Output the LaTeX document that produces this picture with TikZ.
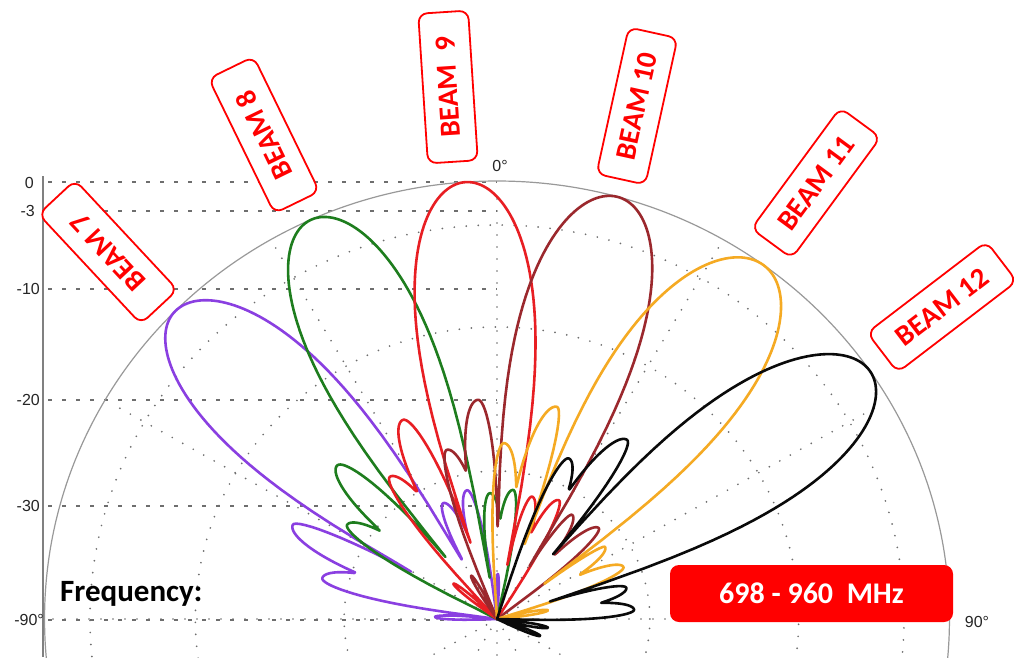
\documentclass[tikz,border=0pt]{standalone}
\usepackage{fontspec}
\setmainfont{Carlito}
\newfontfamily\axf{Liberation Sans}
\definecolor{cP}{RGB}{138,63,225}
\definecolor{cG}{RGB}{30,125,30}
\definecolor{cR}{RGB}{232,30,35}
\definecolor{cB}{RGB}{155,40,45}
\definecolor{cO}{RGB}{245,170,35}
\definecolor{cK}{RGB}{10,10,10}
\definecolor{gridc}{RGB}{110,110,110}
\begin{document}
\begin{tikzpicture}[x=1pt,y=-1pt,
  declare function={
    pcos(\aT,\aC,\aL,\aW)=max(cos(90*min(abs((\aT)-(\aC))/(((\aT)<(\aC))?(\aL):(\aW)),1)),0);
    proot(\aX)=sqrt(sqrt(\aX))*sqrt(sqrt(sqrt(\aX)));
    pmain(\aT,\aC,\aR,\aL,\aW)=\aR*proot(pcos(\aT,\aC,\aL,\aW));
    pside(\aT,\aC,\aR,\aL,\aW)=\aR*sqrt(pcos(\aT,\aC,\aL,\aW));
    rP(\aT)=max(pmain(\aT,-45.3,438,15,15.5),pside(\aT,-64.5,219,9.5,4.7),pside(\aT,-76.4,174,6,9.5),pside(\aT,-24.2,127,6.6,8.5),pside(\aT,-12.7,132,8.5,5.5),pside(\aT,-88,60,4,4),pside(\aT,1,45,3,3));
    rG(\aT)=max(pmain(\aT,-24.2,438,14.5,14.5),pside(\aT,-45.2,218,9.5,7),pside(\aT,-57,173,6,9.5),pside(\aT,-3.1,126,7.1,8.5),pside(\aT,6.9,130,8.5,5.5),pside(\aT,-75,50,3.5,3.5));
    rR(\aT)=max(pmain(\aT,-4,438,14.5,14.5),pside(\aT,-24.6,219,9.5,6.6),pside(\aT,-36.1,176,6,9.5),pside(\aT,15.5,127,5.5,8.5),pside(\aT,26.8,133,8.5,5.5),pside(\aT,-50,55,4,4));
    rB(\aT)=max(pmain(\aT,15.5,438,15,15),pside(\aT,-4.8,220,9.5,5.8),pside(\aT,-16,176,6,9.5),pside(\aT,34.9,127,4.9,8.5),pside(\aT,47.3,134,8.5,5.5),pside(\aT,-30,50,4,4));
    rO(\aT)=max(pmain(\aT,36,438,16.5,16.5),pside(\aT,15.3,220,9.5,4.7),pside(\aT,2.2,176,6,9.5),pside(\aT,55.4,127,3.4,8.5),pside(\aT,67,133,8.5,5.5),pside(\aT,80,50,4,4));
    rK(\aT)=max(pmain(\aT,55.5,438,15.5,15.5),pside(\aT,35.1,219,9.5,5.4),pside(\aT,23.4,175,6,9.5),pside(\aT,76,129,5.5,8.5),pside(\aT,86,133,8.5,5.5),pside(\aT,100,50,4,4),pside(\aT,112,45,4,4));
  },
  lvl/.style={font=\axf\fontsize{16}{18}\selectfont, text=black!85, inner sep=0pt},
  beamlbl/.style={draw=red, line width=1.8pt, fill=white, rounded corners=9pt, minimum width=150pt, minimum height=50pt, text=red, font=\bfseries\fontsize{29}{32}\selectfont, inner sep=0pt},
  lobe/.style={line width=2.6pt, line join=round},
  dotgrid/.style={gridc, line width=1.9pt, dash pattern=on 0pt off 12pt, line cap=round},
  lvlline/.style={gridc, line width=1.8pt, dash pattern=on 4pt off 10pt},
]
\fill[white] (0,0) rectangle (1021,657);
\useasboundingbox (0,0) rectangle (1021,657);
\clip (0,0) rectangle (1021,657);
\coordinate (c) at (497,619);
% level lines
\foreach \yy in {182,211,289,400,506,620} \draw[lvlline] (48,\yy) -- (497,\yy);
% dotted grid
\begin{scope}[shift={(497,619)},x=1.033pt,y=1pt]
  \foreach \rr in {148,292,394} \draw[dotgrid] (0,0) ellipse [x radius=\rr, y radius=\rr];
  \foreach \aa in {0,30,...,330} \draw[dotgrid] (0,0) -- (\aa:430);
  \draw[gray!80, line width=1.2pt] (0,0) ellipse [x radius=438, y radius=438];
\end{scope}
\draw[gray, line width=1.3pt] (43,176) -- (43,657);
% lobes
\begin{scope}[shift={(497,619)},x=1.033pt,y=1pt]
  \draw[lobe,cP] plot[domain=-100:8,samples=309] ({90-(\x)}:{rP(\x)});
  \draw[lobe,cG] plot[domain=-70:18,samples=252] ({90-(\x)}:{rG(\x)});
  \draw[lobe,cR] plot[domain=-56:36,samples=264] ({90-(\x)}:{rR(\x)});
  \draw[lobe,cB] plot[domain=-36:58,samples=270] ({90-(\x)}:{rB(\x)});
  \draw[lobe,cO] plot[domain=-8:86,samples=270] ({90-(\x)}:{rO(\x)});
  \draw[lobe,cK] plot[domain=12:118,samples=304] ({90-(\x)}:{rK(\x)});
\end{scope}
% axis labels
\node[lvl,anchor=east] (l0) at (34,183) {0};
\node[lvl,anchor=east] (l3) at (35,211) {-3};
\node[lvl,anchor=east] (l10) at (40,289) {-10};
\node[lvl,anchor=east] (l20) at (40,400) {-20};
\node[lvl,anchor=east] (l30) at (40,506) {-30};
\node[lvl,anchor=east] (l90) at (44,620) {-90°};
\node[lvl] (t0) at (500,166) {0°};
\node[lvl] (t90) at (977,622) {90°};
% beam labels
\node[beamlbl,rotate=133] (b7) at (108,252) {BEAM 7};
\node[beamlbl,rotate=116] (b8) at (264,135) {BEAM 8};
\node[beamlbl,rotate=93.7] (b9) at (448,87) {BEAM\ \ 9};
\node[beamlbl,rotate=77.6] (b10) at (637,106) {BEAM 10};
\node[beamlbl,rotate=53.7] (b11) at (816,183) {BEAM 11};
\node[beamlbl,rotate=37.4] (b12) at (942,307) {BEAM 12};
% frequency
\node[anchor=west, font=\bfseries\fontsize{31}{34}\selectfont, inner sep=0pt] (fq) at (60,594) {Frequency:};
\node[fill=red, rounded corners=9pt, minimum width=283pt, minimum height=57pt, text=white, font=\bfseries\fontsize{30}{33}\selectfont, inner sep=0pt] (fr) at (811.5,593.5) {698 - 960\ \ MHz};
\end{tikzpicture}
\end{document}
